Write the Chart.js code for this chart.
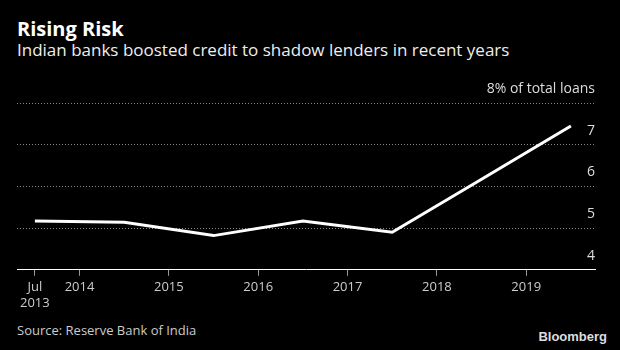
<!DOCTYPE html>
<html>
<head>
<meta charset="utf-8">
<script src="https://cdn.jsdelivr.net/npm/chart.js@4/dist/chart.umd.min.js"></script>
<style>
    body { margin: 0; background: #000; width: 620px; height: 350px; overflow: hidden; position: relative; font-family: 'Open Sans', sans-serif; }
    .title { position: absolute; left: 17px; top: 19px; font-size: 20px; line-height: 20px; font-weight: bold; color: #fff; }
    .subtitle { position: absolute; left: 17px; top: 41px; font-size: 17px; line-height: 17px; color: #eee; white-space: nowrap; }
    .source { position: absolute; left: 17px; top: 324px; font-size: 13px; line-height: 13px; color: #ccc; }
    .brand { position: absolute; right: 13px; top: 330px; font-family: 'Liberation Sans', sans-serif; font-size: 13px; line-height: 13px; font-weight: bold; color: #ddd; }
    #wrap { position: absolute; left: 0; top: 70px; width: 620px; height: 245px; }
</style>
</head>
<body>
<div class="title">Rising Risk</div>
<div class="subtitle">Indian banks boosted credit to shadow lenders in recent years</div>
<div id="wrap"><canvas id="chart"></canvas></div>
<div class="source">Source: Reserve Bank of India</div>
<div class="brand">Bloomberg</div>
<script>
// bank credit to NBFCs, % of total loans
const periods = [2013.5, 2014.5, 2015.5, 2016.5, 2017.5, 2018.5, 2019.5];
const loanShare = [5.17, 5.14, 4.82, 5.17, 4.90, 6.17, 7.45];

const xTickValues = [2013.5, 2014, 2015, 2016, 2017, 2018, 2019];
const xTickLabels = [['Jul', '2013'], '2014', '2015', '2016', '2017', '2018', '2019'];
const yTickValues = [4, 5, 6, 7, 8];
const yTickLabels = ['4', '5', '6', '7', '8% of total loans'];

const ctx = document.getElementById('chart').getContext('2d');

new Chart(ctx, {
    type: 'line',
    data: {
        datasets: [{
            label: 'Share of total loans',
            data: periods.map((p, i) => ({ x: p, y: loanShare[i] })),
            borderColor: '#fff',
            borderWidth: 3,
            pointRadius: 0,
            tension: 0,
            fill: false
        }]
    },
    options: {
        responsive: true,
        maintainAspectRatio: false,
        animation: false,
        layout: {
            padding: { left: 17, right: 25, top: 33, bottom: 0 }
        },
        plugins: {
            legend: { display: false },
            tooltip: { enabled: false }
        },
        scales: {
            x: {
                type: 'linear',
                min: 2013.3,
                max: 2019.77,
                afterBuildTicks: scale => {
                    scale.ticks = xTickValues.map(v => ({ value: v }));
                },
                ticks: {
                    autoSkip: false,
                    maxRotation: 0,
                    padding: 4,
                    color: '#ccc',
                    font: { family: 'Open Sans', size: 13 },
                    callback: (value) => {
                        const i = xTickValues.indexOf(value);
                        return i >= 0 ? xTickLabels[i] : '';
                    }
                },
                grid: {
                    drawOnChartArea: false,
                    drawTicks: true,
                    tickLength: 6,
                    color: '#999'
                },
                border: { display: true, color: '#fff', width: 1 }
            },
            y: {
                position: 'right',
                min: 4,
                max: 8,
                afterBuildTicks: scale => {
                    scale.ticks = yTickValues.map(v => ({ value: v }));
                },
                ticks: {
                    mirror: true,
                    padding: 0,
                    labelOffset: -14,
                    color: '#ddd',
                    font: { family: 'Open Sans', size: 14 },
                    callback: (value) => {
                        const i = yTickValues.indexOf(value);
                        return i >= 0 ? yTickLabels[i] : '';
                    }
                },
                grid: {
                    drawTicks: false,
                    color: ctx => ctx.tick && ctx.tick.value === 4 ? 'rgba(0,0,0,0)' : '#8a8a8a'
                },
                border: { display: false, dash: [1, 2] }
            }
        }
    }
});
</script>
</body>
</html>
